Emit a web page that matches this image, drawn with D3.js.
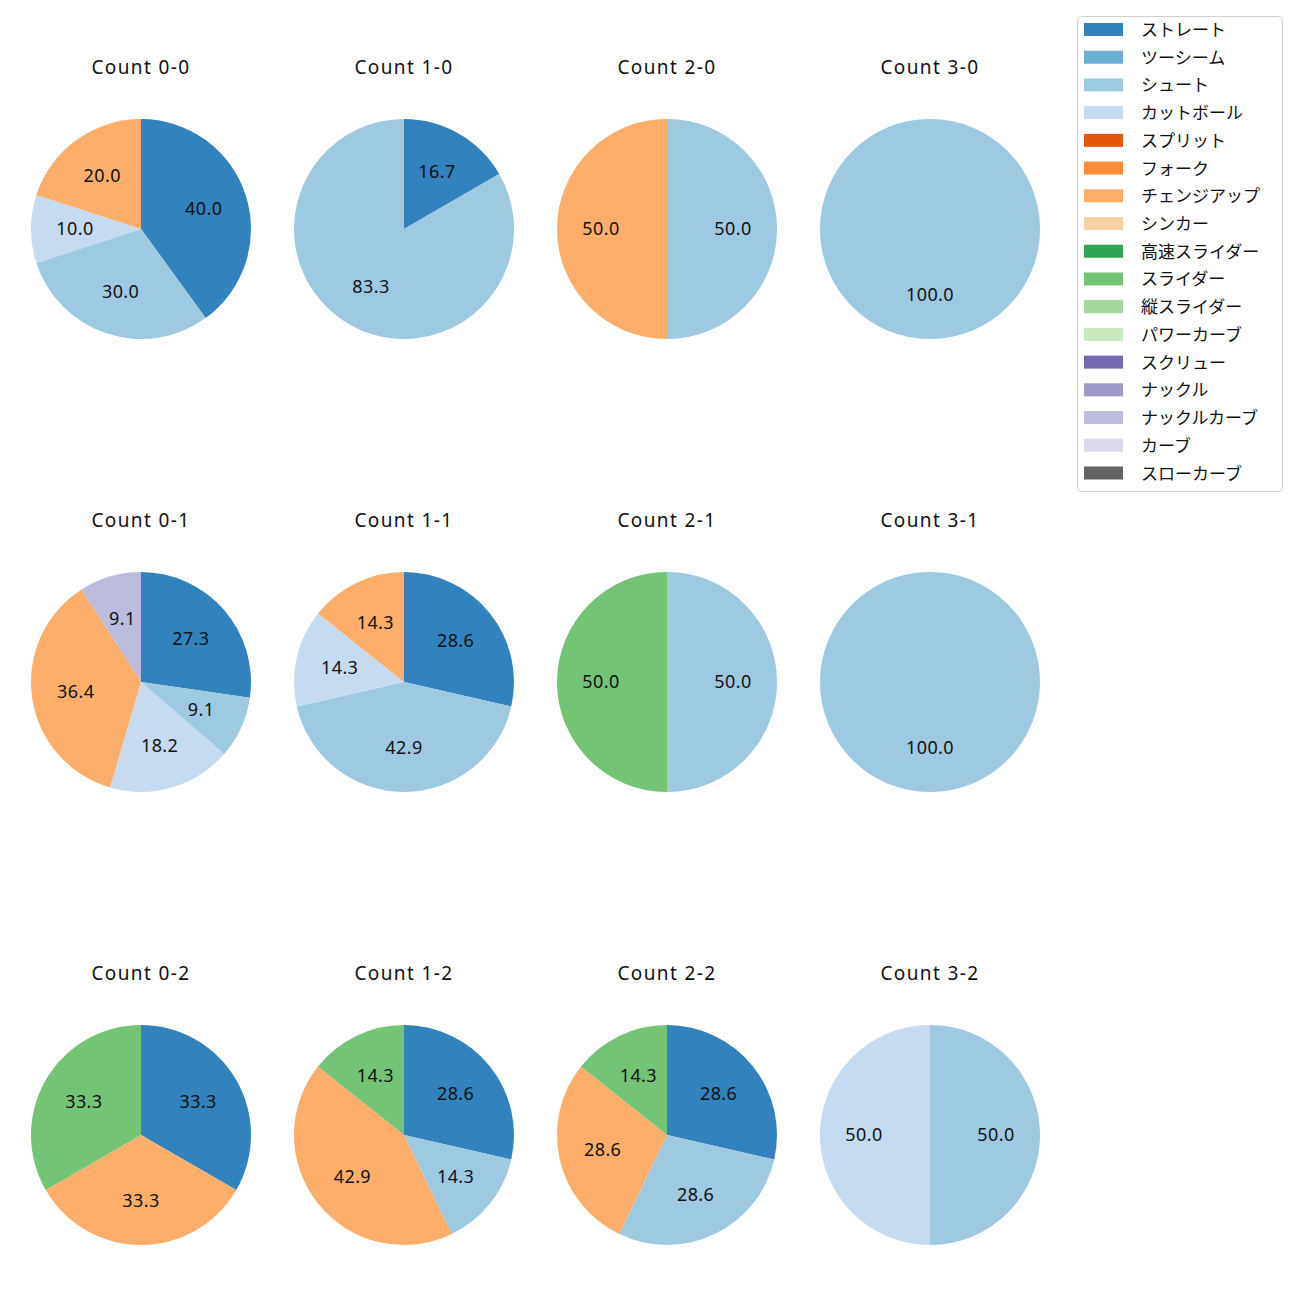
<!DOCTYPE html>
<html><head><meta charset="utf-8">
<script src="https://cdn.jsdelivr.net/npm/d3@7"></script>
<style>body{margin:0;background:#fff}svg{display:block}text{font-family:"Noto Sans","Noto Sans CJK JP",sans-serif}</style>
</head><body><svg id="c" width="1300" height="1300"></svg>
<script>
const pitchTypes = ["ストレート","ツーシーム","シュート","カットボール","スプリット","フォーク","チェンジアップ","シンカー","高速スライダー","スライダー","縦スライダー","パワーカーブ","スクリュー","ナックル","ナックルカーブ","カーブ","スローカーブ"];
const pitchColors = ["#3182bd","#6baed6","#9ecae1","#c6dbef","#e6550d","#fd8d3c","#fdae6b","#fdd0a2","#31a354","#74c476","#a1d99b","#c7e9c0","#756bb1","#9e9ac8","#bcbddc","#dadaeb","#636363"];
const countTitles = ["Count 0-0","Count 1-0","Count 2-0","Count 3-0","Count 0-1","Count 1-1","Count 2-1","Count 3-1","Count 0-2","Count 1-2","Count 2-2","Count 3-2"];
// pitch counts per count situation
const countPitches = [
  {"ストレート":4,"シュート":3,"カットボール":1,"チェンジアップ":2},
  {"ストレート":1,"シュート":5},
  {"シュート":1,"チェンジアップ":1},
  {"シュート":1},
  {"ストレート":3,"シュート":1,"カットボール":2,"チェンジアップ":4,"ナックルカーブ":1},
  {"ストレート":2,"シュート":3,"カットボール":1,"チェンジアップ":1},
  {"シュート":1,"スライダー":1},
  {"シュート":1},
  {"ストレート":1,"チェンジアップ":1,"スライダー":1},
  {"ストレート":2,"シュート":1,"チェンジアップ":3,"スライダー":1},
  {"ストレート":2,"シュート":2,"チェンジアップ":2,"スライダー":1},
  {"シュート":1,"カットボール":1}
];

const svg = d3.select("#c");
const color = d3.scaleOrdinal().domain(pitchTypes).range(pitchColors);
const colX = d3.scalePoint().domain([0,1,2,3]).range([141,930]);
const rowY = d3.scalePoint().domain([0,1,2]).range([229,1135]);
const R = 110;
const pie = d3.pie().sort(null).value(d=>d.v).startAngle(0).endAngle(2*Math.PI);
const arc = d3.arc().innerRadius(0).outerRadius(R);

countTitles.forEach((t,i)=>{
  const cx = colX(i%4), cy = rowY(Math.floor(i/4));
  const g = svg.append("g").attr("transform",`translate(${cx},${cy})`);
  const data = pitchTypes.filter(p=>countPitches[i][p]).map(p=>({k:p,v:countPitches[i][p]}));
  const total = d3.sum(data,d=>d.v);
  const arcs = pie(data);
  g.selectAll("path").data(arcs).join("path").attr("d",arc).attr("fill",d=>color(d.data.k));
  g.selectAll("text.l").data(arcs).join("text").attr("class","l")
    .attr("transform",d=>{
      const mid=(d.startAngle+d.endAngle)/2;
      return `translate(${Math.sin(mid)*R*0.6},${-Math.cos(mid)*R*0.6})`;})
    .attr("text-anchor","middle").attr("dy","0.357em")
    .attr("font-size","18px").attr("letter-spacing","0.4px").attr("fill","#111")
    .text(d=>(d.data.v/total*100).toFixed(1));
  g.append("text").attr("x",0).attr("y",-R-45).attr("text-anchor","middle")
    .attr("font-family","'DejaVu Sans',sans-serif")
    .attr("font-size","19px").attr("letter-spacing","1.4px").attr("fill","#111").text(t);
});

// legend
const lg = svg.append("g");
lg.append("rect").attr("x",1077.5).attr("y",16.5).attr("width",205).attr("height",475)
  .attr("rx",4).attr("fill","#fff").attr("stroke","#d0d0d0");
const ly = d3.scalePoint().domain(pitchTypes).range([29.5,473]);
pitchTypes.forEach(p=>{
  lg.append("rect").attr("x",1084).attr("y",ly(p)-6.5).attr("width",39).attr("height",13).attr("fill",color(p));
  lg.append("text").attr("x",1141).attr("y",ly(p)).attr("dominant-baseline","central")
    .attr("font-family","'Noto Sans CJK JP',sans-serif")
    .attr("font-size","17px").attr("fill","#111").text(p);
});
</script></body></html>
